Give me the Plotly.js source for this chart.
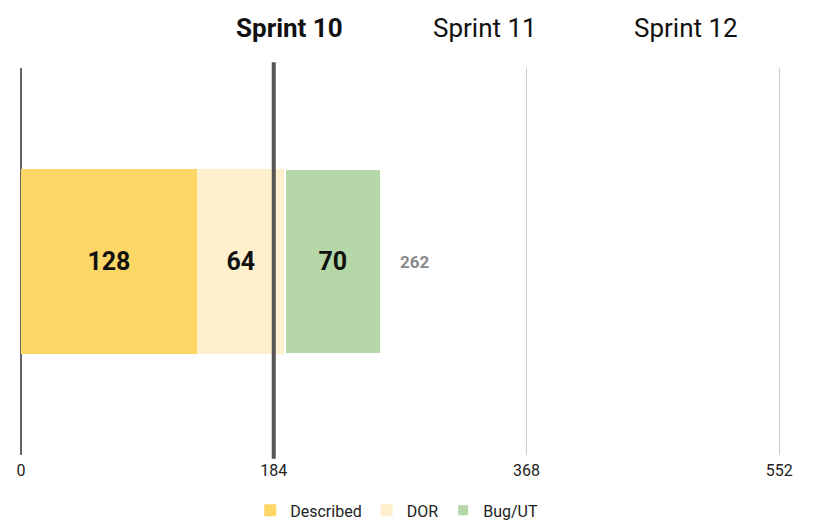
<!DOCTYPE html>
<html>
<head>
<meta charset="utf-8">
<script src="https://cdn.plot.ly/plotly-3.0.1.min.js"></script>
<style>html,body{margin:0;padding:0;background:#fff;}#chart{width:813px;height:524px;}</style>
</head>
<body>
<div id="chart"></div>
<script>
const categories = ["Sprint 10"];
const seriesNames = ["Described", "DOR", "Bug/UT"];
const described = [128];
const dor = [64];
const bugUT = [70];
const totals = [262];
const tickValues = [0, 184, 368, 552];
const tickLabels = ["0", "184", "368", "552"];
const sprintLabels = ["Sprint 10", "Sprint 11", "Sprint 12"];
const currentSprintX = 184;

const colors = ["#FDD766", "#FEF0CD", "#B6D7A8"];
const values = [described, dor, bugUT];

const traces = values.map((v, i) => ({
  type: "bar",
  orientation: "h",
  name: seriesNames[i],
  y: categories,
  x: v,
  text: v.map(String),
  textposition: "inside",
  insidetextanchor: "middle",
  textfont: {family: "Roboto", size: 25, color: "#111111", weight: "bold"},
  marker: {color: colors[i], line: {color: "#ffffff", width: i === 2 ? 2 : 0}},
  hoverinfo: "skip"
}));

const sprintPos = [0.353, 0.610, 0.874];
const annotations = sprintLabels.map((s, i) => ({
  xref: "paper", yref: "paper",
  x: sprintPos[i], y: 1.0, yshift: 40,
  text: s, showarrow: false, xanchor: "center", yanchor: "middle",
  font: {family: "Roboto", size: 26, color: "#111111", weight: i === 0 ? "bold" : "normal"}
}));
totals.forEach((t, i) => annotations.push({
  x: t, y: categories[i], xref: "x", yref: "y",
  text: String(t), showarrow: false, xanchor: "left", xshift: 17,
  font: {family: "Roboto", size: 17, color: "#8a8a8a", weight: "bold"}
}));

const layout = {
  width: 813, height: 524,
  margin: {l: 21, r: 31, t: 68, b: 69, autoexpand: false},
  barmode: "stack",
  bargap: 0.52,
  paper_bgcolor: "#ffffff",
  plot_bgcolor: "#ffffff",
  showlegend: true,
  legend: {
    orientation: "h", x: 0.488, xanchor: "center",
    xref: "container", yref: "container", y: 0.026, yanchor: "middle",
    font: {family: "Roboto", size: 16, color: "#222222"},
    traceorder: "normal", itemwidth: 30
  },
  xaxis: {
    range: [0, 554],
    tickvals: tickValues, ticktext: tickLabels,
    showgrid: true, gridcolor: "#cccccc", gridwidth: 1,
    zeroline: true, zerolinecolor: "#666666", zerolinewidth: 2,
    showline: false, ticks: "", ticklabelstandoff: 4,
    tickfont: {family: "Roboto", size: 16, color: "#222222"},
    fixedrange: true
  },
  yaxis: {
    range: [-0.5, 0.5],
    showticklabels: false, showgrid: false, zeroline: false, showline: false,
    fixedrange: true
  },
  shapes: [{
    type: "line", xref: "x", yref: "paper",
    x0: currentSprintX, x1: currentSprintX, y0: -0.01, y1: 1.015,
    line: {color: "#555555", width: 4}, layer: "above"
  }],
  annotations: annotations
};

Plotly.newPlot("chart", traces, layout, {displayModeBar: false, staticPlot: true});
</script>
</body>
</html>
